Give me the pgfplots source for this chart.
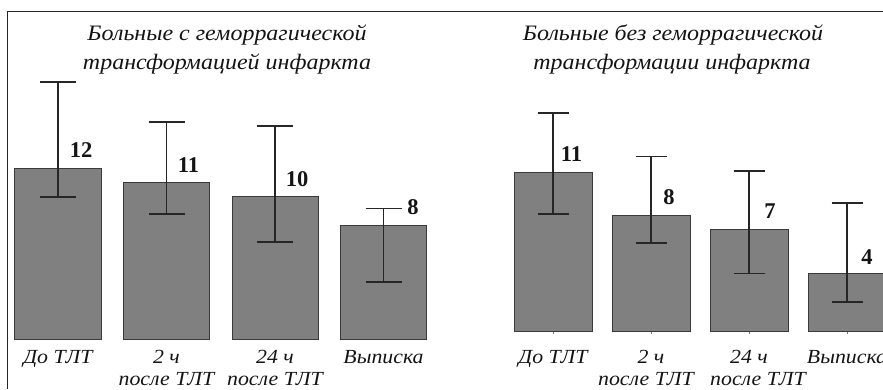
\documentclass[border=0pt]{standalone}
\usepackage{fontspec}
\setmainfont{Liberation Serif}
\newfontfamily\widefont{Liberation Serif}[FakeStretch=1.09]
\usepackage{pgfplots}
\usepackage{pgfplotstable}
\pgfplotsset{compat=1.18}

\pgfplotstableread{
x y ep em
0 12 6.07 2.01
1 11 4.26 2.21
2 10 4.98 3.18
3 8 1.20 4.00
}\leftdata
\pgfplotstableread{
x y lab
0.212 13.29 12
1.203 12.24 11
2.203 11.25 10
3.272 9.28 8
}\leftlabels
\pgfplotstableread{
x y ep em
0 11 4.09 2.90
1 8 4.10 1.90
2 7 4.07 3.00
3 4 4.86 2.00
}\rightdata
\pgfplotstableread{
x y lab
0.189 12.25 11
1.184 9.27 8
2.214 8.30 7
3.204 5.12 4
}\rightlabels

\definecolor{barfill}{HTML}{808080}
\definecolor{baredge}{HTML}{3A3A3A}
\definecolor{errc}{HTML}{262626}

\pgfplotsset{
  panel/.style={
    scale only axis,
    anchor=south west,
    ymin=0,
    axis x line*=bottom,
    axis y line=none,
    x axis line style={draw=none},
    ytick=\empty,
    xtick={0,1,2,3},
    xticklabel style={font=\widefont\fontsize{20}{21.5}\selectfont\itshape, align=center, anchor=north, inner sep=0pt, text=black!92},
    tick align=outside,
    major tick length=3pt,
  },
}

\begin{document}
\begin{tikzpicture}
\useasboundingbox (0,0) rectangle (883pt,389pt);

% left panel
\begin{axis}[panel,
  at={(3.75pt,50pt)}, width=434pt, height=327pt,
  xmin=-0.5, xmax=3.5, ymax=23,
  xticklabels={{До ТЛТ},{2 ч\\после ТЛТ},{24 ч\\после ТЛТ},{Выписка}},
  xtick style={draw=none},
  xticklabel style={yshift=-8.5pt},
]
\addplot[ybar, bar width=86pt, fill=barfill, draw=baredge, line width=1pt,
  error bars/.cd, y dir=both, y explicit,
  error bar style={line width=1.3pt, draw=errc},
  error mark options={rotate=90, line width=1.3pt, mark size=18pt, draw=errc}]
  table[x=x, y=y, y error plus=ep, y error minus=em] {\leftdata};
\addplot[only marks, mark=none, nodes near coords, point meta=explicit symbolic,
  nodes near coords align={anchor=center},
  every node near coord/.append style={font=\fontsize{22.5}{22}\selectfont\bfseries, inner sep=0pt, text=black!92}]
  table[x=x, y=y, meta=lab] {\leftlabels};
\end{axis}

% right panel
\begin{axis}[panel,
  at={(504pt,58pt)}, width=379pt, height=319pt,
  xmin=-0.5, xmax=3.367, ymax=22.08,
  xticklabels={{До ТЛТ},{2 ч\\\hbox{после ТЛТ\kern10pt}},{24 ч\\\hbox{\kern18pt после ТЛТ}},{Выписка}},
  xtick style={draw=black!55, line width=1pt},
  xticklabel style={yshift=-16.5pt},
]
\addplot[ybar, bar width=78pt, fill=barfill, draw=baredge, line width=1pt,
  error bars/.cd, y dir=both, y explicit,
  error bar style={line width=1.3pt, draw=errc},
  error mark options={rotate=90, line width=1.3pt, mark size=15.5pt, draw=errc}]
  table[x=x, y=y, y error plus=ep, y error minus=em] {\rightdata};
\addplot[only marks, mark=none, nodes near coords, point meta=explicit symbolic,
  nodes near coords align={anchor=center},
  every node near coord/.append style={font=\fontsize{22.5}{22}\selectfont\bfseries, inner sep=0pt, text=black!92}]
  table[x=x, y=y, meta=lab] {\rightlabels};
\end{axis}

% frame
\draw[line width=1pt, black!85] (883pt,377pt) -- (7.3pt,377pt) -- (7.3pt,0pt);

% titles
\begin{scope}[every node/.style={anchor=base, inner sep=0pt, font=\widefont\fontsize{22}{29}\selectfont\itshape, text=black!92}]
\node at (227pt,348pt) {Больные с геморрагической};
\node at (227pt,319pt) {трансформацией инфаркта};
\node at (673pt,348pt) {Больные без геморрагической};
\node at (672pt,319pt) {трансформации инфаркта};
\end{scope}
\end{tikzpicture}
\end{document}
